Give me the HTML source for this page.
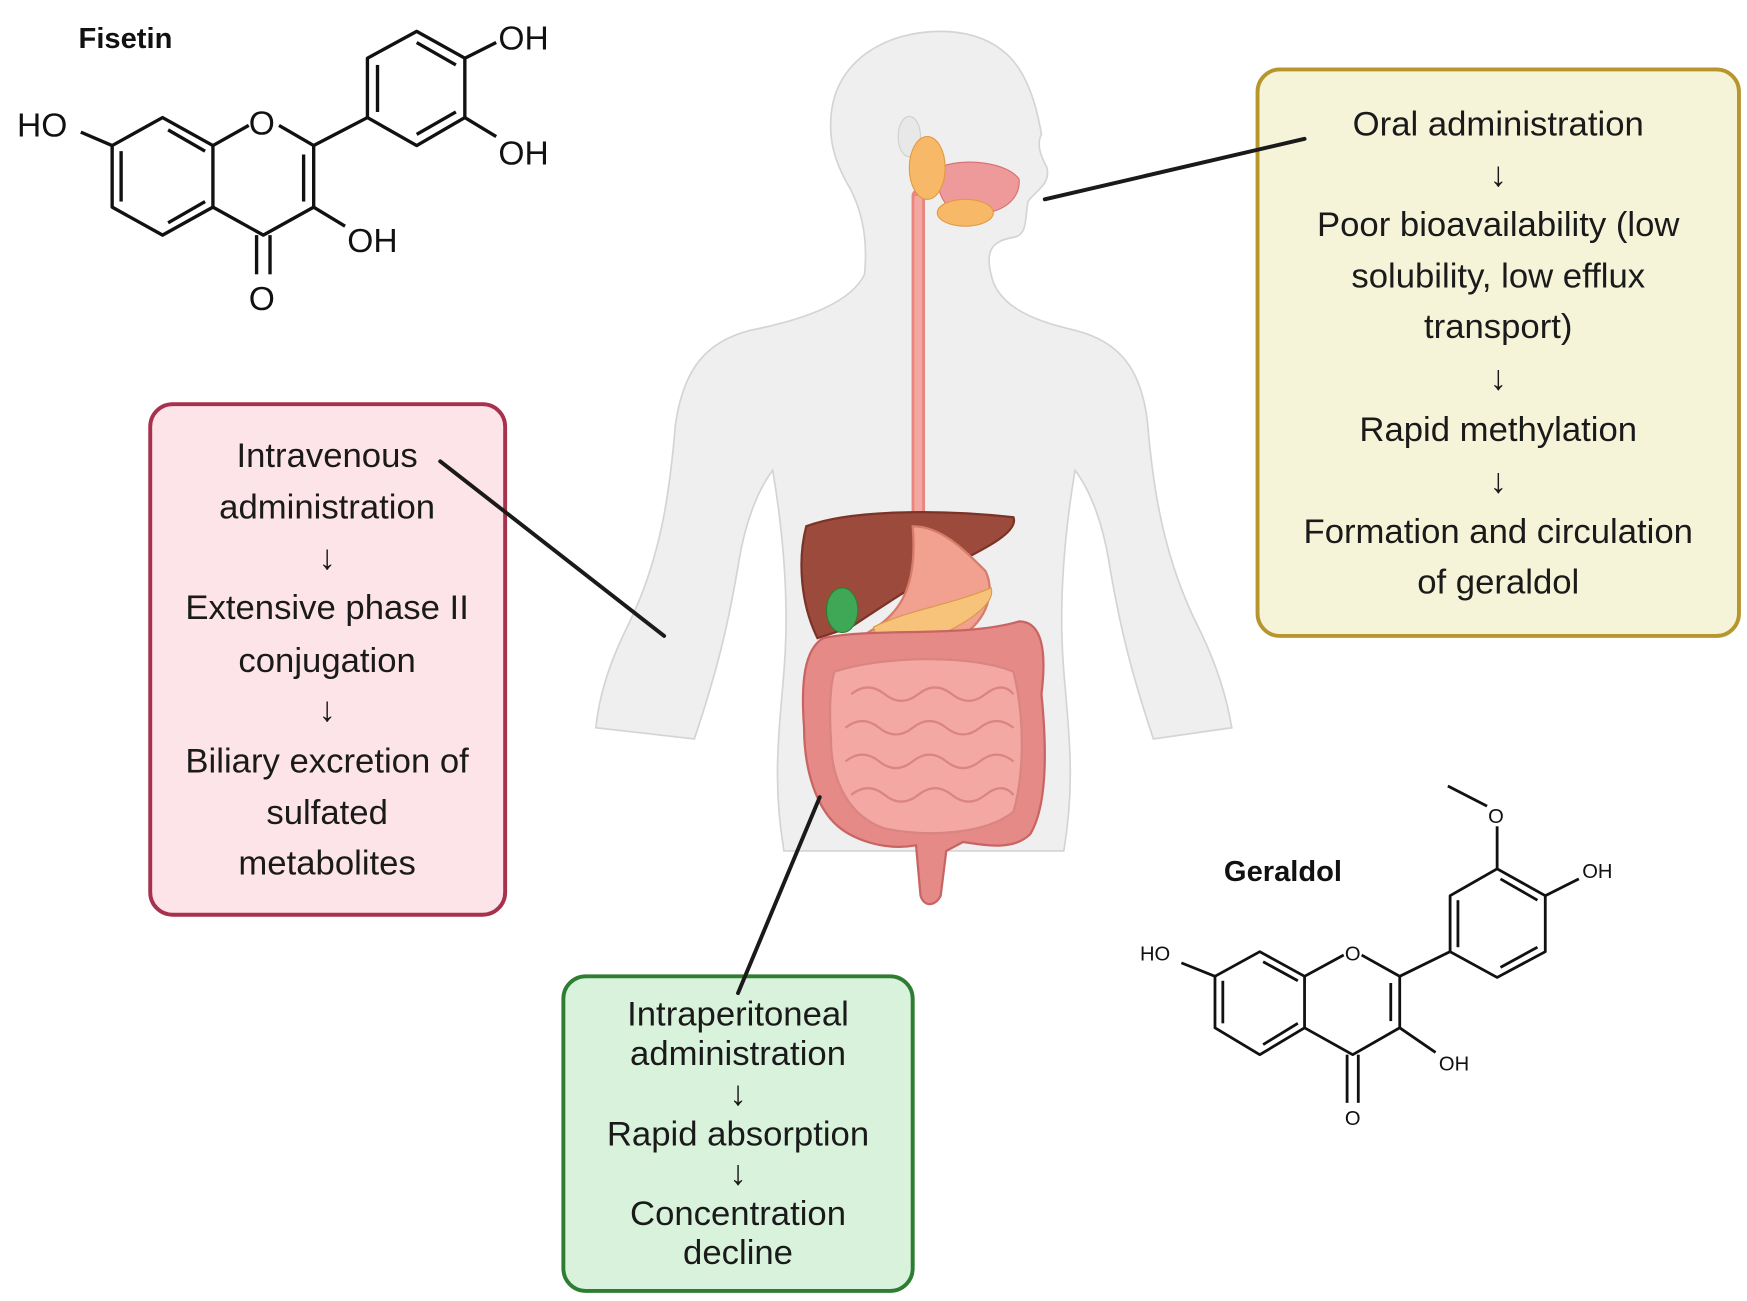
<!DOCTYPE html>
<html><head><meta charset="utf-8">
<style>
html,body{margin:0;padding:0;background:#fff;}
svg{display:block;}
text{font-family:"Liberation Sans",sans-serif;}
</style></head>
<body>
<svg width="1747" height="1301" viewBox="0 0 1560 1162" xmlns="http://www.w3.org/2000/svg">
<rect width="1560" height="1162" fill="#fff"/>

<!-- Body silhouette -->
<g fill="#efefef" stroke="#d4d4d4" stroke-width="1.5">
<path d="M840,28 C790,28 745,55 742,105 C740,130 748,150 760,170 C770,190 775,215 772,245 C760,270 720,285 670,295 C630,305 610,330 603,380 C598,440 590,500 560,560 C545,590 535,620 532,650 L620,660 C640,600 650,560 660,500 C665,470 675,440 690,420 C700,480 705,540 700,600 C695,660 690,700 700,760 L950,760 C960,700 955,660 950,600 C945,540 950,480 960,420 C975,440 985,470 990,500 C1000,560 1010,600 1030,660 L1100,650 C1095,620 1085,590 1070,560 C1040,500 1030,440 1025,380 C1020,330 1000,305 960,295 C915,285 890,270 885,245 C880,225 885,215 905,212 C918,210 915,195 918,180 C925,170 938,165 935,150 C930,140 925,130 930,120 C925,90 915,60 895,45 C880,33 860,28 840,28 Z"/>
</g>
<ellipse cx="812" cy="122" rx="10" ry="18" fill="#e8e8e8" stroke="#cfcfcf"/>

<!-- Esophagus -->
<path d="M820,175 L820,460" stroke="#e8857f" stroke-width="12" fill="none" stroke-linecap="round"/>
<path d="M820,175 L820,460" stroke="#f4a6a0" stroke-width="7" fill="none"/>
<path d="M838,150 C860,140 900,145 910,160 C912,180 890,195 860,190 C840,188 835,165 838,150 Z" fill="#ef9a9a" stroke="#d86d6d"/>
<ellipse cx="828" cy="150" rx="16" ry="28" fill="#f7b968" stroke="#e09a40"/>
<ellipse cx="862" cy="190" rx="25" ry="12" fill="#f7b968" stroke="#e09a40"/>

<!-- Liver -->
<path d="M720,470 C760,455 840,455 905,462 C910,475 880,490 850,505 C820,520 790,540 760,560 L730,570 C715,540 712,500 720,470 Z" fill="#9c4a3c" stroke="#7b3328" stroke-width="2"/>
<path d="M815,470 C840,470 860,490 880,510 C890,530 880,560 850,572 C820,580 790,575 775,565 C800,550 820,530 815,470 Z" fill="#f2a08f" stroke="#d57c6a" stroke-width="2"/>
<ellipse cx="752" cy="545" rx="14" ry="20" fill="#3fa856" stroke="#2e7d32"/>
<path d="M780,560 C810,545 850,540 885,525 C890,540 860,560 820,575 C800,582 785,580 780,560 Z" fill="#f7c27a" stroke="#d89a45"/>

<!-- Large intestine -->
<path d="M735,570 C780,560 860,570 910,555 C930,555 935,580 930,620 C935,670 935,720 920,745 C905,760 880,755 860,752 L845,760 L840,800 C835,810 825,810 822,800 L818,755 C790,760 760,750 745,735 C730,720 718,690 718,650 C715,610 718,580 735,570 Z" fill="#e58a87" stroke="#c96464" stroke-width="2"/>
<path d="M745,600 C790,585 870,585 905,600 C915,640 915,690 905,725 C880,745 830,748 790,740 C760,730 742,700 742,660 C740,630 742,610 745,600 Z" fill="#f4a8a3" stroke="#d98581" stroke-width="2"/>
<g fill="none" stroke="#d98581" stroke-width="2">
<path d="M760,620 q15,-12 30,0 t30,0 t30,0 t30,0 t25,0"/>
<path d="M755,650 q15,-12 30,0 t30,0 t30,0 t30,0 t30,0"/>
<path d="M755,680 q15,-12 30,0 t30,0 t30,0 t30,0 t30,0"/>
<path d="M760,710 q15,-12 30,0 t30,0 t30,0 t30,0 t25,0"/>
</g>

<!-- Yellow box -->
<rect x="1123" y="62" width="430" height="506" rx="20" fill="#f5f3d8" stroke="#b8962e" stroke-width="3.5"/>
<g font-size="31" fill="#1a1a1a" text-anchor="middle">
<text x="1338" y="121">Oral administration</text>
<text x="1338" y="166">↓</text>
<text x="1338" y="211">Poor bioavailability (low</text>
<text x="1338" y="257">solubility, low efflux</text>
<text x="1338" y="302">transport)</text>
<text x="1338" y="348">↓</text>
<text x="1338" y="394">Rapid methylation</text>
<text x="1338" y="440">↓</text>
<text x="1338" y="485">Formation and circulation</text>
<text x="1338" y="530">of geraldol</text>
</g>

<!-- Pink box -->
<rect x="134" y="361" width="317" height="456" rx="20" fill="#fde4e8" stroke="#a8314d" stroke-width="3.5"/>
<g font-size="31" fill="#1a1a1a" text-anchor="middle">
<text x="292" y="417">Intravenous</text>
<text x="292" y="463">administration</text>
<text x="292" y="508">↓</text>
<text x="292" y="553">Extensive phase II</text>
<text x="292" y="600">conjugation</text>
<text x="292" y="644">↓</text>
<text x="292" y="690">Biliary excretion of</text>
<text x="292" y="736">sulfated</text>
<text x="292" y="781">metabolites</text>
</g>

<!-- Green box -->
<rect x="503" y="872" width="312" height="281" rx="20" fill="#d9f2dc" stroke="#2e7d32" stroke-width="3.5"/>
<g font-size="31" fill="#1a1a1a" text-anchor="middle">
<text x="659" y="916">Intraperitoneal</text>
<text x="659" y="951">administration</text>
<text x="659" y="987">↓</text>
<text x="659" y="1023">Rapid absorption</text>
<text x="659" y="1058">↓</text>
<text x="659" y="1094">Concentration</text>
<text x="659" y="1129">decline</text>
</g>

<!-- Connector lines (on top) -->
<g stroke="#1a1a1a" stroke-width="3.5" stroke-linecap="round">
<line x1="933" y1="178" x2="1165" y2="124"/>
<line x1="393" y1="412" x2="593" y2="568"/>
<line x1="659" y1="887" x2="732" y2="712"/>
</g>

<!-- Fisetin -->
<text x="70" y="43" font-size="26" font-weight="bold" fill="#111">Fisetin</text>
<g stroke="#111" stroke-width="3" fill="none" stroke-linejoin="round">
<polygon points="100,130 145,105 190,130 190,185 145,210 100,185"/>
<line x1="108" y1="180" x2="108" y2="135"/>
<line x1="150" y1="116" x2="183" y2="135"/>
<line x1="150" y1="199" x2="183" y2="180"/>
<path d="M190,130 L222,112 M249,112 L280,130 L280,185 L235,210 L190,185"/>
<line x1="271" y1="138" x2="271" y2="180"/>
<line x1="229" y1="210" x2="229" y2="245"/>
<line x1="241" y1="210" x2="241" y2="245"/>
<line x1="280" y1="185" x2="308" y2="202"/>
<line x1="280" y1="130" x2="328" y2="105"/>
<polygon points="328,105 328,52 372,28 415,52 415,105 372,130"/>
<line x1="337" y1="100" x2="337" y2="58"/>
<line x1="372" y1="38" x2="407" y2="58"/>
<line x1="372" y1="120" x2="407" y2="100"/>
<line x1="415" y1="52" x2="443" y2="38"/>
<line x1="415" y1="105" x2="443" y2="122"/>
<line x1="72" y1="118" x2="100" y2="130"/>
</g>
<g font-size="30" fill="#111">
<text x="15" y="122">HO</text>
<text x="222" y="120">O</text>
<text x="445" y="44">OH</text>
<text x="445" y="147">OH</text>
<text x="310" y="225">OH</text>
<text x="222" y="277">O</text>
</g>

<!-- Geraldol -->
<text x="1093" y="787" font-size="26" font-weight="bold" fill="#111">Geraldol</text>
<g stroke="#111" stroke-width="2.5" fill="none" stroke-linejoin="round">
<polygon points="1085,872 1125,850 1165,872 1165,918 1125,942 1085,918"/>
<line x1="1092" y1="914" x2="1092" y2="876"/>
<line x1="1128" y1="859" x2="1159" y2="876"/>
<line x1="1128" y1="933" x2="1159" y2="914"/>
<path d="M1165,872 L1200,853 M1216,853 L1250,872 L1250,918 L1208,942 L1165,918"/>
<line x1="1242" y1="878" x2="1242" y2="912"/>
<line x1="1203" y1="942" x2="1203" y2="985"/>
<line x1="1213" y1="942" x2="1213" y2="985"/>
<line x1="1250" y1="918" x2="1282" y2="940"/>
<line x1="1250" y1="872" x2="1295" y2="850"/>
<polygon points="1295,850 1295,800 1337,776 1380,800 1380,850 1337,873"/>
<line x1="1302" y1="846" x2="1302" y2="804"/>
<line x1="1340" y1="785" x2="1373" y2="804"/>
<line x1="1340" y1="864" x2="1373" y2="846"/>
<line x1="1380" y1="800" x2="1410" y2="785"/>
<line x1="1337" y1="776" x2="1337" y2="738"/>
<line x1="1328" y1="720" x2="1293" y2="702"/>
<line x1="1055" y1="860" x2="1085" y2="872"/>
</g>
<g font-size="18" fill="#111">
<text x="1018" y="858">HO</text>
<text x="1201" y="858">O</text>
<text x="1413" y="784">OH</text>
<text x="1285" y="956">OH</text>
<text x="1201" y="1005">O</text>
<text x="1329" y="735">O</text>
</g>
</svg>
</body></html>
